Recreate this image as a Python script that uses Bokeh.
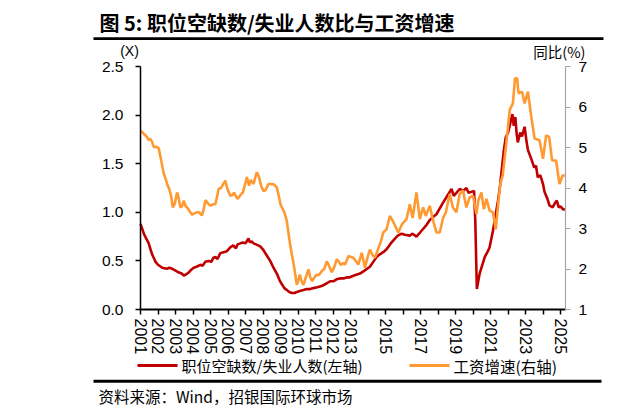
from bokeh.plotting import figure
from bokeh.models import Range1d, LinearAxis, FixedTicker, PrintfTickFormatter
from bokeh.core.properties import value
from bokeh.embed import file_html
from bokeh.resources import INLINE

# ---------------- data ----------------
ratio_t = [2001.00, 2001.10, 2001.19, 2001.30, 2001.47, 2001.55, 2001.66, 2001.76, 2001.86, 2002.00,
           2002.24, 2002.50, 2002.65, 2002.80, 2003.00, 2003.20, 2003.35, 2003.47, 2003.60, 2003.75,
           2003.90, 2004.04, 2004.20, 2004.42, 2004.55, 2004.70, 2004.90, 2005.05, 2005.15, 2005.28,
           2005.40, 2005.56, 2005.75, 2005.94, 2006.13, 2006.30, 2006.45, 2006.55, 2006.70, 2006.85,
           2007.00, 2007.17, 2007.25, 2007.35, 2007.46, 2007.60, 2007.84, 2008.03, 2008.20, 2008.41,
           2008.60, 2008.79, 2008.95, 2009.08, 2009.22, 2009.36, 2009.50, 2009.65, 2009.80, 2009.93,
           2010.10, 2010.31, 2010.50, 2010.70, 2010.88, 2011.10, 2011.30, 2011.45, 2011.65, 2011.83,
           2012.02, 2012.20, 2012.40, 2012.59, 2012.78, 2012.93, 2013.20, 2013.54, 2013.80, 2014.11,
           2014.30, 2014.49, 2014.70, 2014.87, 2015.06, 2015.30, 2015.54, 2015.70, 2015.92, 2016.10,
           2016.39, 2016.55, 2016.77, 2017.06, 2017.30, 2017.53, 2017.70, 2017.91, 2018.10, 2018.29,
           2018.50, 2018.77, 2018.90, 2019.05, 2019.24, 2019.45, 2019.62, 2019.75, 2019.90, 2020.06,
           2020.13, 2020.22, 2020.38, 2020.55, 2020.67, 2020.85, 2020.95, 2021.14, 2021.30, 2021.43,
           2021.55, 2021.62, 2021.75, 2021.87, 2022.00, 2022.10, 2022.25, 2022.33, 2022.42, 2022.50,
           2022.56, 2022.70, 2022.80, 2022.95, 2023.05, 2023.14, 2023.33, 2023.50, 2023.60, 2023.70,
           2023.85, 2024.00, 2024.09, 2024.25, 2024.37, 2024.55, 2024.70, 2024.79, 2024.90, 2025.00,
           2025.15, 2025.25]
ratio_v = [0.88, 0.83, 0.78, 0.74, 0.68, 0.63, 0.57, 0.53, 0.49, 0.46,
           0.43, 0.42, 0.43, 0.42, 0.40, 0.38, 0.37, 0.35, 0.36, 0.38,
           0.41, 0.43, 0.44, 0.46, 0.45, 0.49, 0.50, 0.49, 0.53, 0.54,
           0.52, 0.58, 0.59, 0.60, 0.64, 0.66, 0.63, 0.67, 0.68, 0.69,
           0.68, 0.73, 0.69, 0.70, 0.68, 0.67, 0.65, 0.61, 0.56, 0.50,
           0.43, 0.37, 0.30, 0.26, 0.22, 0.20, 0.18, 0.17, 0.17, 0.18,
           0.19, 0.20, 0.21, 0.21, 0.22, 0.23, 0.24, 0.25, 0.27, 0.29,
           0.29, 0.31, 0.32, 0.32, 0.33, 0.33, 0.35, 0.37, 0.40, 0.44,
           0.49, 0.54, 0.57, 0.59, 0.62, 0.68, 0.73, 0.76, 0.78, 0.77,
           0.76, 0.78, 0.75, 0.81, 0.86, 0.92, 0.95, 0.98, 1.04, 1.10,
           1.16, 1.24, 1.17, 1.20, 1.24, 1.22, 1.25, 1.20, 1.21, 1.22,
           0.92, 0.21, 0.37, 0.47, 0.54, 0.60, 0.64, 0.81, 0.98, 1.12,
           1.28, 1.40, 1.62, 1.77, 1.82, 1.89, 2.01, 1.89, 1.98, 1.80,
           1.72, 1.82, 1.78, 1.88, 1.74, 1.64, 1.55, 1.46, 1.48, 1.36,
           1.38, 1.29, 1.21, 1.14, 1.07, 1.05, 1.10, 1.12, 1.05, 1.06,
           1.03, 1.03]

wage_t = [2001.00, 2001.10, 2001.20, 2001.29, 2001.38, 2001.47, 2001.55, 2001.65, 2001.76, 2001.90,
          2002.04, 2002.15, 2002.33, 2002.42, 2002.52, 2002.62, 2002.70, 2002.77, 2002.84, 2002.95,
          2003.09, 2003.18, 2003.28, 2003.38, 2003.47, 2003.58, 2003.70, 2003.82, 2003.95, 2004.10,
          2004.23, 2004.35, 2004.50, 2004.60, 2004.71, 2004.85, 2005.00, 2005.15, 2005.28, 2005.38,
          2005.47, 2005.60, 2005.70, 2005.85, 2005.95, 2006.13, 2006.25, 2006.35, 2006.45, 2006.55,
          2006.70, 2006.85, 2006.95, 2007.08, 2007.20, 2007.30, 2007.46, 2007.55, 2007.65, 2007.75,
          2007.90, 2008.03, 2008.15, 2008.31, 2008.45, 2008.60, 2008.79, 2008.90, 2009.00, 2009.08,
          2009.22, 2009.36, 2009.45, 2009.55, 2009.65, 2009.74, 2009.85, 2009.93, 2010.02, 2010.10,
          2010.20, 2010.31, 2010.45, 2010.60, 2010.70, 2010.79, 2010.95, 2011.07, 2011.20, 2011.36,
          2011.50, 2011.64, 2011.75, 2011.93, 2012.08, 2012.21, 2012.30, 2012.45, 2012.60, 2012.69,
          2012.88, 2013.00, 2013.15, 2013.30, 2013.45, 2013.64, 2013.83, 2013.95, 2014.11, 2014.25,
          2014.40, 2014.60, 2014.75, 2014.87, 2015.06, 2015.25, 2015.40, 2015.50, 2015.73, 2015.95,
          2016.20, 2016.39, 2016.55, 2016.77, 2016.96, 2017.15, 2017.30, 2017.53, 2017.70, 2017.91,
          2018.10, 2018.29, 2018.45, 2018.67, 2018.85, 2019.05, 2019.24, 2019.43, 2019.62, 2019.81,
          2020.00, 2020.20, 2020.30, 2020.48, 2020.62, 2020.77, 2020.95, 2021.14, 2021.30, 2021.42,
          2021.56, 2021.70, 2021.90, 2022.10, 2022.28, 2022.40, 2022.52, 2022.60, 2022.80, 2022.95,
          2023.14, 2023.33, 2023.52, 2023.80, 2024.00, 2024.18, 2024.35, 2024.52, 2024.75, 2024.94,
          2025.12, 2025.25]
wage_v = [5.41, 5.38, 5.33, 5.30, 5.25, 5.18, 5.22, 5.15, 5.01, 5.02,
          4.98, 4.75, 4.35, 4.25, 4.10, 4.00, 3.89, 3.75, 3.52, 3.60,
          3.89, 3.75, 3.52, 3.55, 3.69, 3.55, 3.50, 3.42, 3.34, 3.38,
          3.40, 3.40, 3.32, 3.45, 3.70, 3.62, 3.56, 3.60, 3.60, 3.80,
          3.98, 4.00, 4.08, 4.18, 4.00, 3.81, 3.82, 3.89, 3.80, 3.73,
          3.82, 3.89, 4.05, 4.27, 4.06, 4.20, 4.10, 4.25, 4.39, 4.30,
          4.05, 3.92, 3.95, 4.10, 4.10, 4.09, 4.02, 3.80, 3.60, 3.52,
          3.40, 3.19, 2.90, 2.61, 2.35, 2.15, 1.85, 1.61, 1.72, 1.86,
          1.70, 1.61, 1.80, 1.99, 1.80, 1.70, 1.80, 1.86, 1.85, 1.95,
          2.00, 2.19, 2.10, 1.92, 2.05, 2.24, 2.20, 2.10, 2.15, 2.11,
          2.32, 2.30, 2.28, 2.20, 2.11, 2.40, 2.03, 2.25, 2.48, 2.35,
          2.28, 2.52, 2.70, 2.90, 2.98, 3.31, 3.20, 3.11, 2.90, 3.11,
          3.23, 3.60, 3.26, 3.89, 3.23, 3.52, 3.31, 3.56, 3.23, 2.90,
          2.90, 3.26, 3.40, 3.85, 3.52, 3.40, 3.85, 3.94, 3.52, 3.77,
          3.81, 3.36, 3.69, 3.89, 3.48, 3.73, 3.44, 3.40, 2.98, 3.52,
          4.10, 4.31, 5.10, 5.93, 6.09, 6.71, 6.71, 6.34, 6.38, 6.09,
          6.38, 5.76, 5.22, 5.18, 4.72, 5.30, 5.26, 4.68, 4.68, 4.10,
          4.31, 4.31]

year_ticks = list(range(2001, 2026))
year_labels = {y: (str(y) if (y <= 2013 or y % 2 == 1) else "") for y in year_ticks}
left_ticks = [0.0, 0.5, 1.0, 1.5, 2.0, 2.5]
right_ticks = [1, 2, 3, 4, 5, 6, 7]

title_text = "图 5: 职位空缺数/失业人数比与工资增速"
left_unit = "(X)"
right_unit = "同比(%)"
ratio_name = "职位空缺数/失业人数(左轴)"
wage_name = "工资增速(右轴)"
source_text = "资料来源：Wind，招银国际环球市场"

RED = "#C00000"
ORANGE = "#FF9A33"
CJK = "Noto Sans CJK SC"
LAT = "Liberation Sans"

# ---------------- geometry (page pixels) ----------------
W, H = 620, 412
PL, PR, PT, PB = 140.0, 565.0, 66.0, 309.0      # plot area edges
X0_YEAR, PX_YEAR = 2001.0, 17.5                 # 2001 at PL, 17.5 px per year
L_MIN, L_MAX = 0.0, 2.5
R_MIN, R_MAX = 1.0, 7.0
PX_L = (PB - PT) / (L_MAX - L_MIN)
PX_R = (PB - PT) / (R_MAX - R_MIN)
X_END = X0_YEAR + (PR - PL) / PX_YEAR


def X(px):
    return X0_YEAR + (px - PL) / PX_YEAR


def Y(py):
    return L_MIN + (PB - py) / PX_L


p = figure(width=W, height=H, output_backend="svg", toolbar_location=None, title=None,
           x_range=Range1d(X(0), X(W)), y_range=Range1d(Y(H), Y(0)),
           min_border_left=0, min_border_right=0, min_border_top=0, min_border_bottom=0)
p.extra_y_ranges = {"right": Range1d(R_MIN - (H - PB) / PX_R, R_MIN + PB / PX_R)}
p.xgrid.visible = False
p.ygrid.visible = False
p.outline_line_color = None
p.background_fill_color = "white"
p.border_fill_color = "white"

# left axis
ya = p.yaxis[0]
ya.fixed_location = X0_YEAR
ya.bounds = (L_MIN, L_MAX)
ya.ticker = FixedTicker(ticks=left_ticks)
ya.formatter = PrintfTickFormatter(format="%.1f")
ya.axis_line_color = "black"
ya.axis_line_width = 1.5
ya.major_tick_line_color = "black"
ya.major_tick_line_width = 1.5
ya.major_tick_out = 5
ya.major_tick_in = 0
ya.minor_tick_line_color = None
ya.major_label_text_font = LAT
ya.major_label_text_font_size = "15.5px"
ya.major_label_text_color = "black"
ya.major_label_standoff = 12

# right axis
ra = LinearAxis(y_range_name="right", ticker=FixedTicker(ticks=right_ticks),
                fixed_location=X_END, bounds=(R_MIN, R_MAX))
ra.axis_line_color = "#A6A6A6"
ra.axis_line_width = 1.2
ra.major_tick_line_color = "#A6A6A6"
ra.major_tick_line_width = 1.2
ra.major_tick_out = 5
ra.major_tick_in = 0
ra.minor_tick_line_color = None
ra.major_label_text_font = LAT
ra.major_label_text_font_size = "15.5px"
ra.major_label_text_color = "black"
ra.major_label_standoff = 8
p.add_layout(ra, "right")

# bottom axis
xa = p.xaxis[0]
xa.fixed_location = L_MIN
xa.bounds = (X0_YEAR, X_END)
xa.ticker = FixedTicker(ticks=year_ticks)
xa.major_label_overrides = year_labels
xa.major_label_orientation = "vertical"
xa.axis_line_color = "black"
xa.axis_line_width = 2
xa.major_tick_line_color = "black"
xa.major_tick_line_width = 1.5
xa.major_tick_out = 5
xa.major_tick_in = 0
xa.minor_tick_line_color = None
xa.major_label_text_font = LAT
xa.major_label_text_font_size = "16px"
xa.major_label_text_color = "black"
xa.major_label_standoff = 4

# series
p.line(ratio_t, ratio_v, line_color=RED, line_width=2.6)
p.line(wage_t, wage_v, line_color=ORANGE, line_width=2.6, y_range_name="right")

# title, rule, units
p.text(x=[X(99)], y=[Y(21.5)], text=[title_text], text_font=value(CJK), text_font_size="20px",
       text_font_style="bold", text_color="black", text_align="left", text_baseline="middle")
p.quad(left=[X(93)], right=[X(603)], top=[Y(36.7)], bottom=[Y(39.5)],
       fill_color="black", line_color=None)
p.text(x=[X(129)], y=[Y(50.5)], text=[left_unit], text_font=value(LAT), text_font_size="14px",
       text_color="black", text_align="center", text_baseline="middle")
p.text(x=[X(585)], y=[Y(50.5)], text=[right_unit], text_font=value(CJK), text_font_size="14.5px",
       text_color="black", text_align="right", text_baseline="middle")

# legend
p.segment(x0=[X(137)], y0=[Y(365)], x1=[X(177)], y1=[Y(365)], line_color=RED, line_width=3)
p.text(x=[X(181)], y=[Y(365)], text=[ratio_name], text_font=value(CJK), text_font_size="15px",
       text_color="black", text_align="left", text_baseline="middle")
p.segment(x0=[X(409)], y0=[Y(365)], x1=[X(449)], y1=[Y(365)], line_color=ORANGE, line_width=3)
p.text(x=[X(453)], y=[Y(365)], text=[wage_name], text_font=value(CJK), text_font_size="15.5px",
       text_color="black", text_align="left", text_baseline="middle")

# bottom rule and source
p.quad(left=[X(93)], right=[X(601)], top=[Y(379.3)], bottom=[Y(382.3)],
       fill_color="black", line_color=None)
p.text(x=[X(98)], y=[Y(395.5)], text=[source_text], text_font=value(CJK), text_font_size="15.5px",
       text_color="black", text_align="left", text_baseline="middle")

open("out.html", "w").write(file_html(p, INLINE))
